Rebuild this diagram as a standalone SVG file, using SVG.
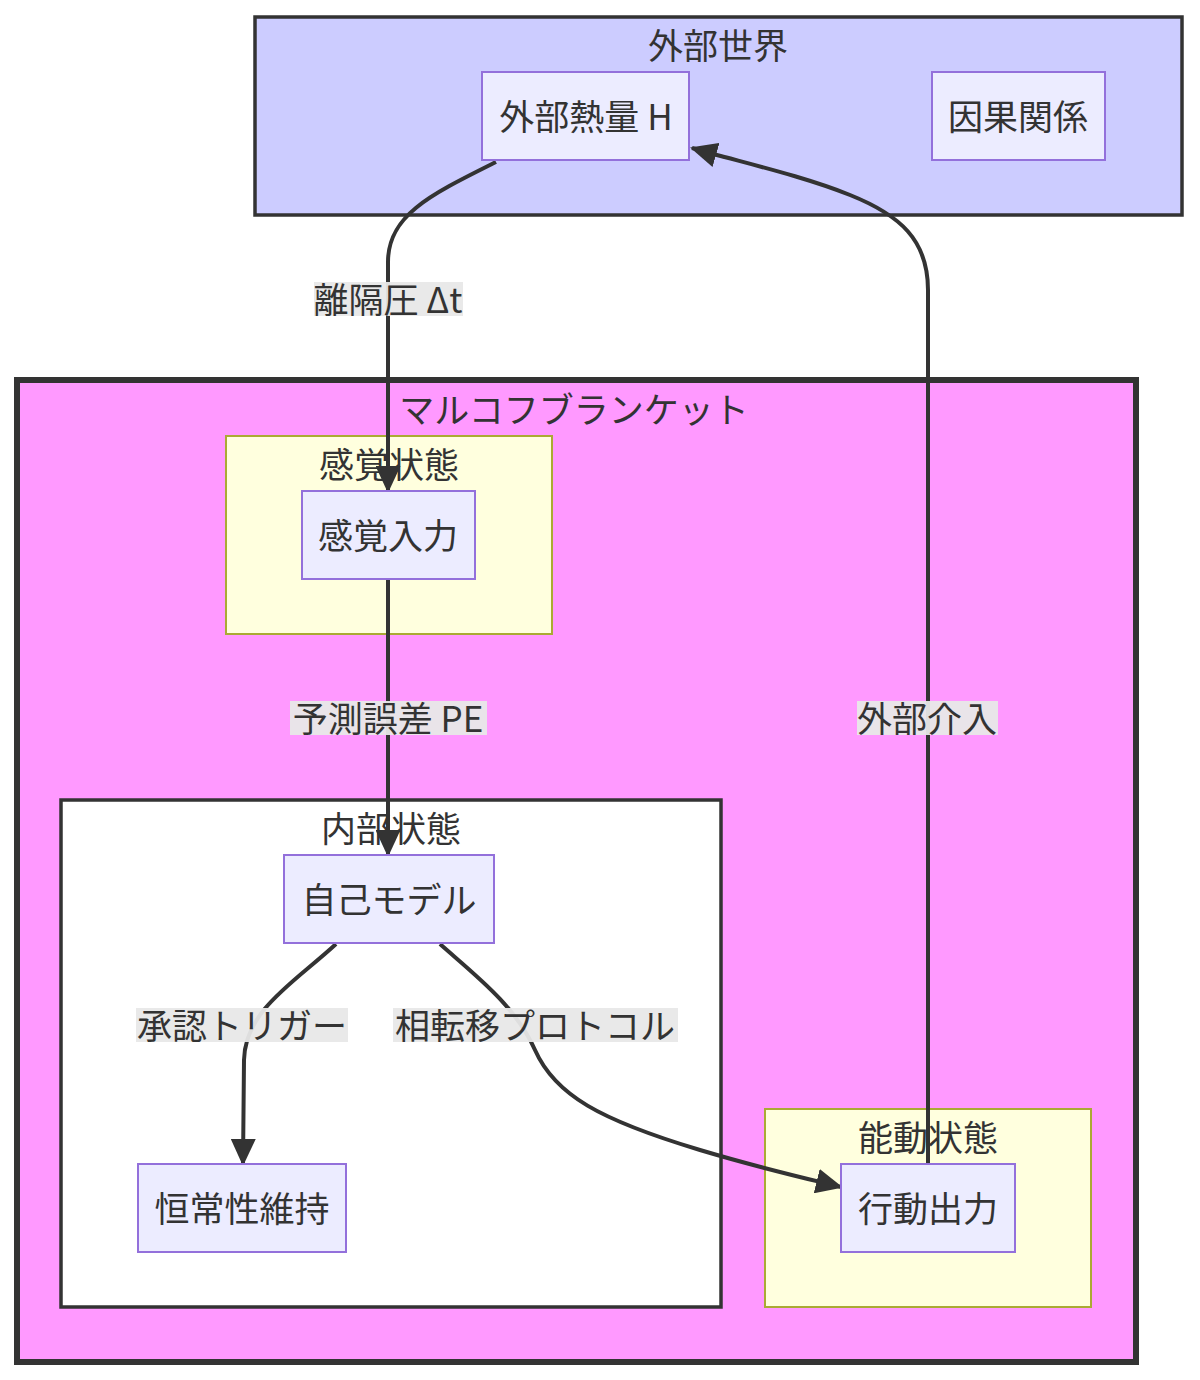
<svg xmlns="http://www.w3.org/2000/svg" width="1200" height="1380" viewBox="0 0 1200 1380">
<style>
text{font-family:"Noto Sans CJK JP","Liberation Sans",sans-serif;font-size:35px;fill:#333;text-anchor:middle;dominant-baseline:central}
.node rect{fill:#ECECFF;stroke:#9370DB;stroke-width:2}
.state{fill:#ffffde;stroke:#aaaa33;stroke-width:2}
.edge{fill:none;stroke:#333;stroke-width:4}
.lbl{fill:#e8e8e8;opacity:0.95}
</style>
<defs>
<marker id="arrow" viewBox="0 0 27 25" refX="25" refY="12.5" markerUnits="userSpaceOnUse" markerWidth="27" markerHeight="25" orient="auto">
<path d="M0,0 L27,12.5 L0,25 z" fill="#333"/>
</marker>
</defs>
<rect width="1200" height="1380" fill="#fff"/>
<g id="cluster-external">
<rect x="255" y="17" width="927" height="198" fill="#ccccff" stroke="#333" stroke-width="3.5"/>
<text x="718" y="43">外部世界</text>
</g>
<g id="cluster-blanket">
<rect x="17" y="380" width="1119" height="982" fill="#ff99ff" stroke="#333" stroke-width="6"/>
<text x="574" y="407">マルコフブランケット</text>
</g>
<g id="cluster-sensory">
<rect class="state" x="226" y="436" width="326" height="198"/>
<text x="389" y="462">感覚状態</text>
</g>
<g id="cluster-internal">
<rect x="61" y="800" width="660" height="507" fill="#fff" stroke="#333" stroke-width="3.5"/>
<text x="391" y="826">内部状態</text>
</g>
<g id="cluster-active">
<rect class="state" x="765" y="1109" width="326" height="198"/>
<text x="928" y="1135">能動状態</text>
</g>
<g id="edges">
<path class="edge" d="M496,162 C430,195 388,215 388,262 L388,491" marker-end="url(#arrow)"/>
<path class="edge" d="M388,579 L388,855" marker-end="url(#arrow)"/>
<path class="edge" d="M336,944 C295,982 245,1010 244,1060 L243,1164" marker-end="url(#arrow)"/>
<path class="edge" d="M440,944 C475,975 515,1005 535,1050 C555,1095 600,1120 700,1150 C760,1168 800,1177 841,1187" marker-end="url(#arrow)"/>
<path class="edge" d="M928,1164 L928,290 C928,240 900,215 850,195 C800,175 740,162 692,148" marker-end="url(#arrow)"/>
<rect class="lbl" x="314" y="282" width="149" height="34"/>
<text x="388" y="297">離隔圧 Δt</text>
<rect class="lbl" x="290" y="701" width="197" height="34"/>
<text x="388" y="716">予測誤差 PE</text>
<rect class="lbl" x="136" y="1008" width="212" height="34"/>
<text x="242" y="1023">承認トリガー</text>
<rect class="lbl" x="393" y="1008" width="285" height="34"/>
<text x="535" y="1023">相転移プロトコル</text>
<rect class="lbl" x="857" y="701" width="141" height="34"/>
<text x="927" y="716">外部介入</text>
</g>
<g id="node-heat" class="node">
<rect x="482" y="72" width="207" height="88"/>
<text x="586" y="114">外部熱量 H</text>
</g>
<g id="node-causal" class="node">
<rect x="932" y="72" width="173" height="88"/>
<text x="1018" y="114">因果関係</text>
</g>
<g id="node-sense" class="node">
<rect x="302" y="491" width="173" height="88"/>
<text x="388" y="533">感覚入力</text>
</g>
<g id="node-self" class="node">
<rect x="284" y="855" width="210" height="88"/>
<text x="389" y="897">自己モデル</text>
</g>
<g id="node-homeo" class="node">
<rect x="138" y="1164" width="208" height="88"/>
<text x="242" y="1206">恒常性維持</text>
</g>
<g id="node-action" class="node">
<rect x="841" y="1164" width="174" height="88"/>
<text x="928" y="1206">行動出力</text>
</g>
</svg>
